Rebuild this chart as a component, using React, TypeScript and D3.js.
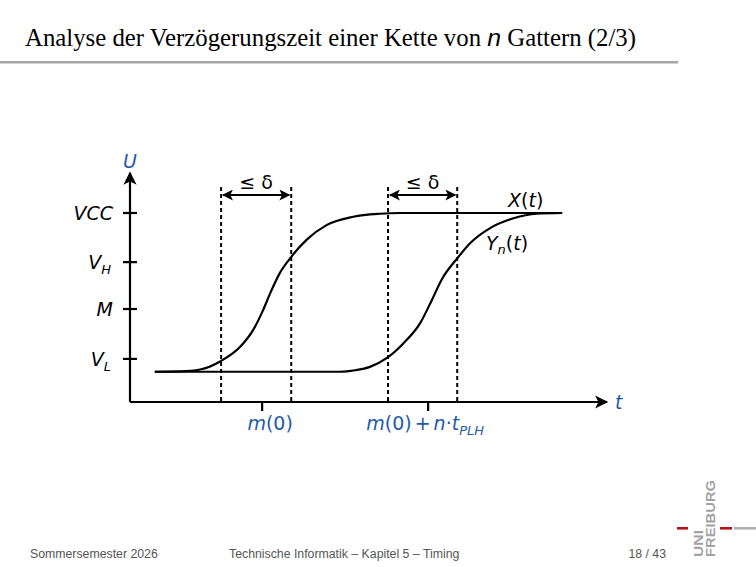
import React from "react";
import * as d3 from "d3";

// Time axis in abstract units (0..10), voltage in abstract units (VCC = 5)
const xCurveT = [0.52, 1.05, 1.47, 1.9, 2.31, 2.58, 2.79, 2.94, 3.14, 3.38, 3.7, 4.12, 4.68, 5.24, 5.66, 9.06];
const xCurveV = [0.8, 0.81, 0.86, 1.08, 1.46, 1.9, 2.43, 2.88, 3.41, 3.84, 4.29, 4.68, 4.9, 4.98, 5.0, 5.0];
const yCurveT = [0.52, 4.4, 4.72, 5.03, 5.38, 5.73, 6.08, 6.33, 6.53, 6.86, 7.13, 7.55, 8.04, 8.53, 9.06];
const yCurveV = [0.8, 0.8, 0.84, 0.93, 1.16, 1.55, 2.08, 2.7, 3.23, 3.8, 4.2, 4.6, 4.86, 4.98, 5.0];

const yTickNames = ["VCC", "V_H", "M", "V_L"];
const yTickValues = [5.0, 3.7, 2.46, 1.14];
const xTickValues = [2.77, 6.25];
const dashPairs = [[1.91, 3.38], [5.41, 6.86]];
const axisMax = { t: 10, v: 6.06 };

const BLUE = "#1f5aa6";
const SANS = "DejaVu Sans, sans-serif";
const FS = 19;

export default function App() {
  const x = d3.scaleLinear().domain([0, 10]).range([130, 607]);
  const y = d3.scaleLinear().domain([0, 5]).range([402, 213]);
  const line = d3
    .line<[number, number]>()
    .x((d) => x(d[0]))
    .y((d) => y(d[1]))
    .curve(d3.curveMonotoneX);
  const xData = xCurveT.map((t, i) => [t, xCurveV[i]] as [number, number]);
  const yData = yCurveT.map((t, i) => [t, yCurveV[i]] as [number, number]);

  const x0 = x(0);
  const y0 = y(0);
  const yTop = y(axisMax.v);
  const xEnd = x(axisMax.t);
  const dashTop = 187;
  const arrowY = 195;

  const renderTickLabel = (name: string) => {
    if (name.includes("_")) {
      const [a, b] = name.split("_");
      return (
        <>
          <tspan fontStyle="italic">{a}</tspan>
          <tspan fontStyle="italic" fontSize={13} dy={5}>{b}</tspan>
        </>
      );
    }
    return <tspan fontStyle="italic">{name}</tspan>;
  };

  return (
    <svg
      width={756}
      height={567}
      style={{ position: "absolute", left: 0, top: 0, background: "#fff" }}
    >
      <defs>
        <marker id="ah" viewBox="0 0 10 10" refX="9" refY="5" markerWidth="6.5" markerHeight="6" orient="auto-start-reverse" markerUnits="strokeWidth">
          <path d="M0,0 L10,5 L0,10 L2.5,5 Z" fill="#000" />
        </marker>
        <marker id="ah2" viewBox="0 0 10 10" refX="9" refY="5" markerWidth="5.5" markerHeight="5" orient="auto-start-reverse" markerUnits="strokeWidth">
          <path d="M0,0 L10,5 L0,10 L2.5,5 Z" fill="#000" />
        </marker>
      </defs>

      {/* Title */}
      <text x={25} y={46} fontFamily="Liberation Serif, serif" fontSize={24.8} fill="#000">
        Analyse der Verzögerungszeit einer Kette von{" "}
        <tspan fontFamily="Liberation Sans, sans-serif" fontStyle="italic">n</tspan> Gattern (2/3)
      </text>
      <rect x={0} y={61} width={678} height={2.5} fill="#a6a6a6" />

      {/* Axes */}
      <line x1={x0} y1={y0} x2={x0} y2={yTop} stroke="#000" strokeWidth={2.2} markerEnd="url(#ah)" />
      <line x1={x0} y1={y0} x2={xEnd} y2={y0} stroke="#000" strokeWidth={2.2} markerEnd="url(#ah)" />
      <text x={x0} y={168} textAnchor="middle" fontFamily={SANS} fontStyle="italic" fontSize={FS} fill={BLUE}>U</text>
      <text x={xEnd + 8} y={409} fontFamily={SANS} fontStyle="italic" fontSize={FS} fill={BLUE}>t</text>

      {/* Y ticks */}
      {yTickValues.map((v, i) => (
        <g key={yTickNames[i]}>
          <line x1={x0 - 7} x2={x0 + 7} y1={y(v)} y2={y(v)} stroke="#000" strokeWidth={2.2} />
          <text
            x={yTickNames[i].includes("_") ? 111 : 113}
            y={y(v) + 7}
            textAnchor="end"
            fontFamily={SANS}
            fontSize={FS}
            fill="#000"
          >
            {renderTickLabel(yTickNames[i])}
          </text>
        </g>
      ))}

      {/* X ticks */}
      {xTickValues.map((t, i) => (
        <line key={i} x1={x(t)} x2={x(t)} y1={y0} y2={y0 + 9} stroke="#000" strokeWidth={2.2} />
      ))}
      <text x={x(xTickValues[0]) + 8} y={430} textAnchor="middle" fontFamily={SANS} fontSize={FS} fill={BLUE}>
        <tspan fontStyle="italic">m</tspan>(0)
      </text>
      <text x={x(xTickValues[1]) - 3} y={430} textAnchor="middle" fontFamily={SANS} fontSize={FS} fill={BLUE}>
        <tspan fontStyle="italic">m</tspan>(0)<tspan dx={3}>+</tspan>
        <tspan fontStyle="italic" dx={3}>n</tspan>·<tspan fontStyle="italic">t</tspan>
        <tspan fontStyle="italic" fontSize={13} dy={5}>PLH</tspan>
      </text>

      {/* Dashed lines and delta arrows */}
      {dashPairs.map((p, i) => (
        <g key={i}>
          {p.map((t, j) => (
            <line key={j} x1={x(t)} x2={x(t)} y1={dashTop} y2={y0} stroke="#000" strokeWidth={2} strokeDasharray="4,3" />
          ))}
          <line
            x1={x(p[0]) + 2}
            x2={x(p[1]) - 2}
            y1={arrowY}
            y2={arrowY}
            stroke="#000"
            strokeWidth={2.2}
            markerStart="url(#ah2)"
            markerEnd="url(#ah2)"
          />
          <text x={(x(p[0]) + x(p[1])) / 2} y={189} textAnchor="middle" fontFamily={SANS} fontSize={FS} fill="#000">
            ≤ δ
          </text>
        </g>
      ))}

      {/* Curves */}
      <path d={line(xData) ?? ""} fill="none" stroke="#000" strokeWidth={2.2} />
      <path d={line(yData) ?? ""} fill="none" stroke="#000" strokeWidth={2.2} />

      <text x={508} y={207} fontFamily={SANS} fontSize={FS} fill="#000">
        <tspan fontStyle="italic">X</tspan>(<tspan fontStyle="italic">t</tspan>)
      </text>
      <text x={486} y={250} fontFamily={SANS} fontSize={FS} fill="#000">
        <tspan fontStyle="italic">Y</tspan>
        <tspan fontStyle="italic" fontSize={13} dy={4}>n</tspan>
        <tspan dy={-4}>(</tspan><tspan fontStyle="italic">t</tspan>)
      </text>

      {/* Footer */}
      <g fontFamily="Liberation Sans, Arial, sans-serif" fontSize={12.3} fill="#555">
        <text x={30} y={558}>Sommersemester 2026</text>
        <text x={229} y={558}>Technische Informatik –  Kapitel 5 – Timing</text>
        <text x={666} y={558} textAnchor="end">18 / 43</text>
      </g>

      {/* Logo */}
      <rect x={677} y={527} width={11} height={2.6} fill="#b5121b" />
      <rect x={720} y={527} width={12} height={2.6} fill="#b5121b" />
      <rect x={734} y={527} width={22} height={2.6} fill="#b0b0b0" />
      <g fontFamily="Liberation Sans, Arial, sans-serif" fontWeight="bold" fill="#a3a3a3" fontSize={13.5}>
        <text transform="translate(703,557) rotate(-90)" textLength={27} lengthAdjust="spacingAndGlyphs">UNI</text>
        <text transform="translate(715,557) rotate(-90)" textLength={77} lengthAdjust="spacingAndGlyphs">FREIBURG</text>
      </g>
    </svg>
  );
}
